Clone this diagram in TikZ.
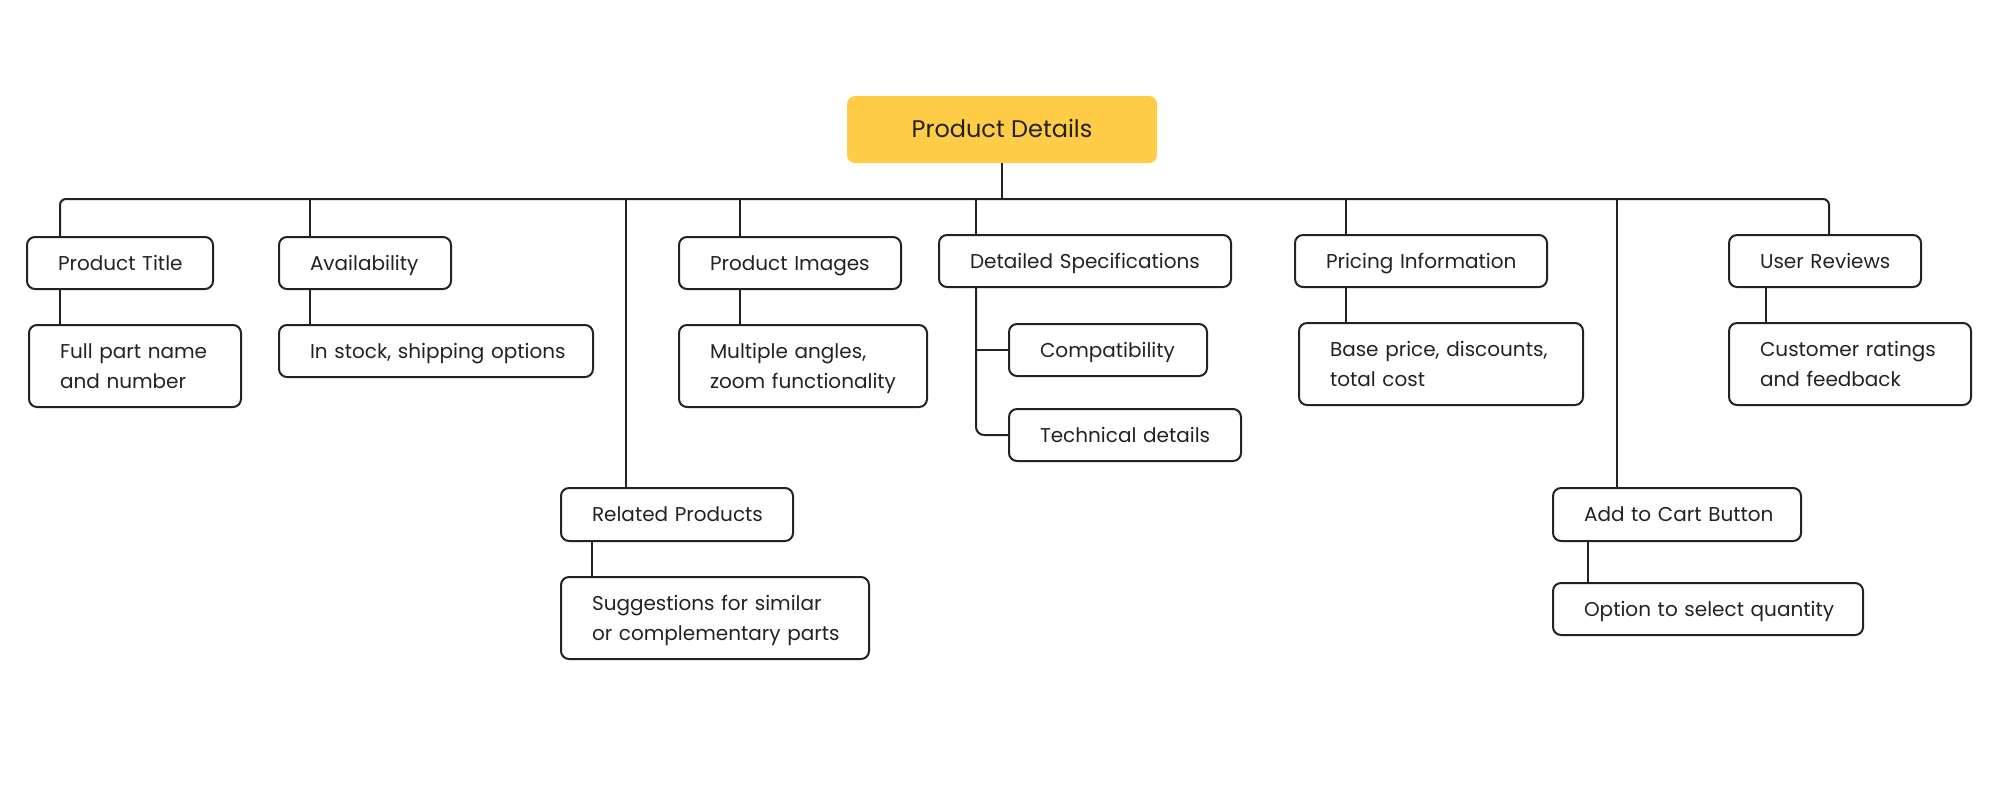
\documentclass[tikz,border=0pt]{standalone}
\usepackage{fontspec}
\setmainfont{Poppins}
\usetikzlibrary{calc}
\definecolor{ink}{HTML}{222222}
\definecolor{rootfill}{HTML}{FFCC47}
\begin{document}
\begin{tikzpicture}[x=0.5pt,y=-0.5pt,
  box/.style={draw=ink, line width=1pt, rounded corners=4pt, align=left,
    inner xsep=15.5pt, inner ysep=0pt, text=ink,
    font=\fontsize{10pt}{15pt}\selectfont, text height=7pt, text depth=0pt},
  twoline/.style={text depth=15pt},
  rootbox/.style={fill=rootfill, rounded corners=4pt, text=ink,
    font=\fontsize{12pt}{14pt}\selectfont, minimum width=155pt,
    minimum height=33.5pt, inner sep=0pt, text height=8.4pt, text depth=0pt},
  link/.style={draw=ink, line width=1pt},
]
\useasboundingbox (0,0) rectangle (2000,800);

% root
\node[rootbox] (root) at (1002,129.5) {Product Details};

% first level
\node[box, text width=62pt, minimum height=26pt] (title) at (120,263) {\mbox{Product Title}};
\node[box, text width=55pt, minimum height=26pt] (avail) at (365,263) {\mbox{Availability}};
\node[box, text width=85pt, minimum height=26.5pt] (related) at (677,514.5) {\mbox{Related Products}};
\node[box, text width=80pt, minimum height=26pt] (images) at (790,263) {\mbox{Product Images}};
\node[box, text width=115pt, minimum height=26pt] (specs) at (1085,261) {\mbox{Detailed Specifications}};
\node[box, text width=95pt, minimum height=26pt] (pricing) at (1421,261) {\mbox{Pricing Information}};
\node[box, text width=93pt, minimum height=26.5pt] (cart) at (1677,514.5) {\mbox{Add to Cart Button}};
\node[box, text width=65pt, minimum height=26pt] (reviews) at (1825,261) {\mbox{User Reviews}};

% second level
\node[box, twoline, text width=75pt, minimum height=41pt] (titlec) at (135,366) {\mbox{Full part name}\\\mbox{and number}};
\node[box, text width=126pt, minimum height=26pt] (availc) at (436,351) {\mbox{In stock, shipping options}};
\node[box, twoline, text width=123pt, minimum height=41pt] (relatedc) at (715,618) {\mbox{Suggestions for similar}\\\mbox{or complementary parts}};
\node[box, twoline, text width=93pt, minimum height=41pt] (imagesc) at (803,366) {\mbox{Multiple angles,}\\\mbox{zoom functionality}};
\node[box, text width=68pt, minimum height=26pt] (compat) at (1108,350) {\mbox{Compatibility}};
\node[box, text width=85pt, minimum height=26pt] (tech) at (1125,435) {\mbox{Technical details}};
\node[box, twoline, text width=111pt, minimum height=41pt] (pricingc) at (1441,364) {\mbox{Base price, discounts,}\\\mbox{total cost}};
\node[box, text width=124pt, minimum height=26pt] (cartc) at (1708,609) {\mbox{Option to select quantity}};
\node[box, twoline, text width=90pt, minimum height=41pt] (reviewsc) at (1850,364) {\mbox{Customer ratings}\\\mbox{and feedback}};

% bus coordinates
\coordinate (bus) at (1002,199);
\coordinate (dTitle) at (60,199);
\coordinate (dAvail) at (310,199);
\coordinate (dRel) at (626,199);
\coordinate (dImg) at (740,199);
\coordinate (dSpec) at (976,199);
\coordinate (dPrice) at (1346,199);
\coordinate (dCart) at (1617,199);
\coordinate (dRev) at (1829,199);
\coordinate (xRel) at (592,0);
\coordinate (xCart) at (1588,0);
\coordinate (xRev) at (1766,0);

% connectors
\draw[link] (root.south) -- (bus);
\draw[link, rounded corners=3pt] (dTitle |- title.north) -- (dTitle) -- (dRev) -- (dRev |- reviews.north);
\draw[link] (dAvail) -- (dAvail |- avail.north);
\draw[link] (dRel) -- (dRel |- related.north);
\draw[link] (dImg) -- (dImg |- images.north);
\draw[link] (dSpec) -- (dSpec |- specs.north);
\draw[link] (dPrice) -- (dPrice |- pricing.north);
\draw[link] (dCart) -- (dCart |- cart.north);

\draw[link] (dTitle |- title.south) -- (dTitle |- titlec.north);
\draw[link] (dAvail |- avail.south) -- (dAvail |- availc.north);
\draw[link] (xRel |- related.south) -- (xRel |- relatedc.north);
\draw[link] (dImg |- images.south) -- (dImg |- imagesc.north);
\draw[link, rounded corners=4pt] (dSpec |- specs.south) |- (tech.west);
\draw[link] (dSpec |- compat.west) -- (compat.west);
\draw[link] (dPrice |- pricing.south) -- (dPrice |- pricingc.north);
\draw[link] (xCart |- cart.south) -- (xCart |- cartc.north);
\draw[link] (xRev |- reviews.south) -- (xRev |- reviewsc.north);
\end{tikzpicture}
\end{document}
